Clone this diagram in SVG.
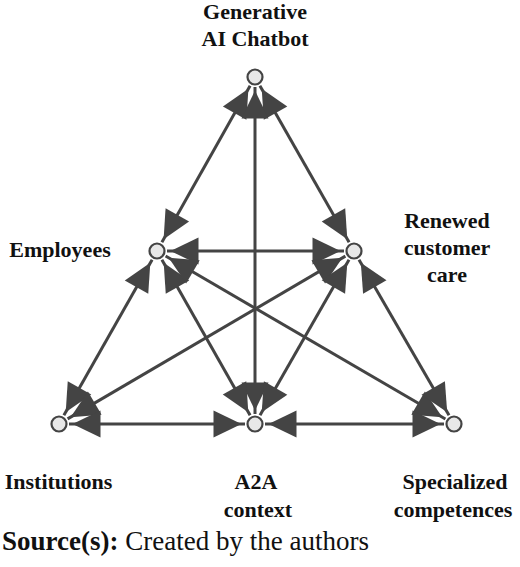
<svg xmlns="http://www.w3.org/2000/svg" width="520" height="567" viewBox="0 0 520 567">
<defs>
<style>
.lbl{font-family:"Liberation Serif","Times New Roman",serif;font-weight:bold;font-size:22px;fill:#111;text-anchor:middle}
.src{font-family:"Liberation Serif","Times New Roman",serif;font-size:27px;fill:#111}
.edge{stroke:#444;stroke-width:3;fill:none}
.head{fill:#444}
.node{fill:#e8e8e8;stroke:#444;stroke-width:2.2}
</style>
<path id="ah" class="head" d="M0,0 L-28,-13.5 L-28,13.5 Z"/>
</defs>
<rect width="520" height="567" fill="#fff"/>
<g id="connectors">
<line class="edge" x1="250.1" y1="85.7" x2="161.9" y2="242.3"/>
<line class="edge" x1="259.9" y1="85.7" x2="349.1" y2="242.3"/>
<line class="edge" x1="255" y1="87" x2="255" y2="414"/>
<line class="edge" x1="167" y1="251" x2="344" y2="251"/>
<line class="edge" x1="152.1" y1="259.7" x2="63.9" y2="415.3"/>
<line class="edge" x1="161.9" y1="259.7" x2="250.1" y2="415.3"/>
<line class="edge" x1="165.6" y1="256" x2="445.4" y2="419"/>
<line class="edge" x1="345.4" y1="256.1" x2="67.6" y2="418.9"/>
<line class="edge" x1="349" y1="259.7" x2="260" y2="415.3"/>
<line class="edge" x1="359" y1="259.7" x2="449" y2="415.3"/>
<line class="edge" x1="69" y1="424" x2="245" y2="424"/>
<line class="edge" x1="265" y1="424" x2="444" y2="424"/>
<use href="#ah" transform="translate(163.6,239.2) rotate(119.4)"/>
<use href="#ah" transform="translate(248.4,88.8) rotate(-60.6)"/>
<use href="#ah" transform="translate(347.3,239.3) rotate(60.4)"/>
<use href="#ah" transform="translate(261.7,88.7) rotate(-119.6)"/>
<use href="#ah" transform="translate(255,410.5) rotate(90)"/>
<use href="#ah" transform="translate(255,90.5) rotate(-90)"/>
<use href="#ah" transform="translate(340.5,251) rotate(0)"/>
<use href="#ah" transform="translate(170.5,251) rotate(180)"/>
<use href="#ah" transform="translate(65.7,412.3) rotate(119.5)"/>
<use href="#ah" transform="translate(150.3,262.8) rotate(-60.5)"/>
<use href="#ah" transform="translate(248.3,412.3) rotate(60.5)"/>
<use href="#ah" transform="translate(163.7,262.8) rotate(-119.5)"/>
<use href="#ah" transform="translate(442.3,417.2) rotate(30.2)"/>
<use href="#ah" transform="translate(168.7,257.8) rotate(-149.8)"/>
<use href="#ah" transform="translate(70.6,417.2) rotate(149.6)"/>
<use href="#ah" transform="translate(342.4,257.8) rotate(-30.4)"/>
<use href="#ah" transform="translate(261.7,412.3) rotate(119.8)"/>
<use href="#ah" transform="translate(347.3,262.7) rotate(-60.2)"/>
<use href="#ah" transform="translate(447.2,412.3) rotate(60)"/>
<use href="#ah" transform="translate(360.8,262.7) rotate(-120)"/>
<use href="#ah" transform="translate(241.5,424) rotate(0)"/>
<use href="#ah" transform="translate(72.5,424) rotate(180)"/>
<use href="#ah" transform="translate(440.5,424) rotate(0)"/>
<use href="#ah" transform="translate(268.5,424) rotate(180)"/>
</g>
<g id="node-chatbot">
<circle class="node" cx="255" cy="77" r="7.5"/>
<text class="lbl" x="255" y="18.5">Generative</text>
<text class="lbl" x="255" y="45.5">AI Chatbot</text>
</g>
<g id="node-employees">
<circle class="node" cx="157" cy="251" r="7.5"/>
<text class="lbl" x="60" y="257">Employees</text>
</g>
<g id="node-renewed">
<circle class="node" cx="354" cy="251" r="7.5"/>
<text class="lbl" x="447" y="227.5">Renewed</text>
<text class="lbl" x="447" y="254.5">customer</text>
<text class="lbl" x="447" y="281.5">care</text>
</g>
<g id="node-institutions">
<circle class="node" cx="59" cy="424" r="7.5"/>
<text class="lbl" x="58.5" y="488.5">Institutions</text>
</g>
<g id="node-a2a">
<circle class="node" cx="255" cy="424" r="7.5"/>
<text class="lbl" x="256" y="488.5">A2A</text>
<text class="lbl" x="258" y="516.5">context</text>
</g>
<g id="node-specialized">
<circle class="node" cx="454" cy="424" r="7.5"/>
<text class="lbl" x="455" y="488.5">Specialized</text>
<text class="lbl" x="453" y="516.5">competences</text>
</g>
<text class="src" x="2" y="550"><tspan font-weight="bold">Source(s):</tspan> Created by the authors</text>
</svg>
